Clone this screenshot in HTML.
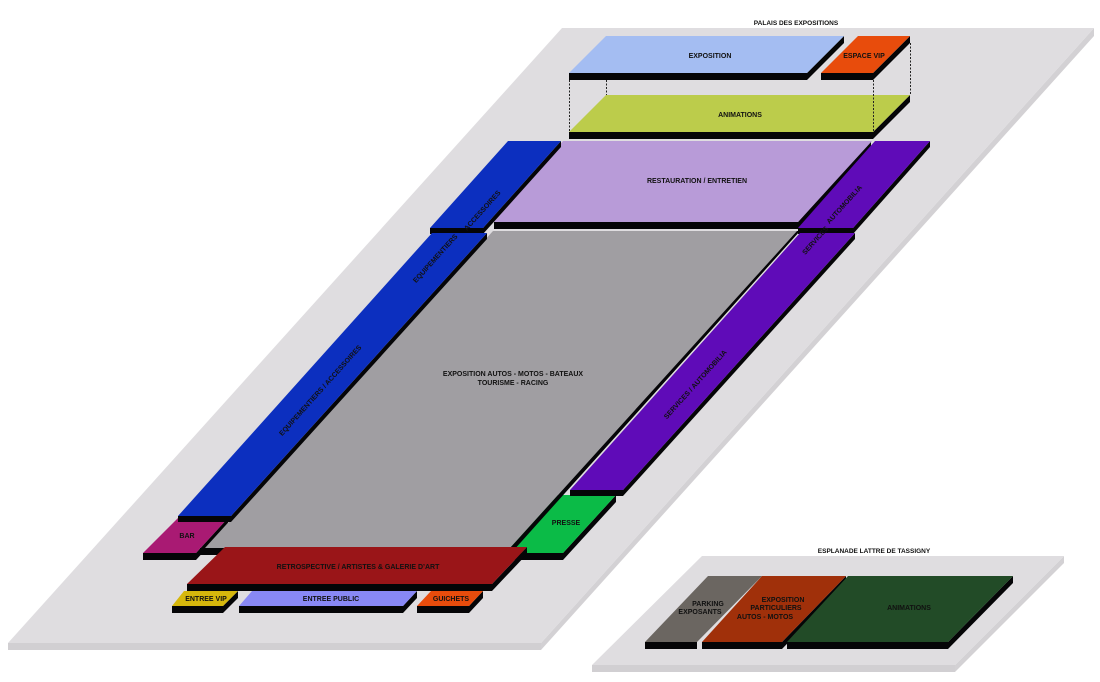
<!DOCTYPE html>
<html><head><meta charset="utf-8"><style>
html,body{margin:0;padding:0;background:#fff;}
svg{display:block;}
text{font-family:"Liberation Sans",sans-serif;font-weight:bold;font-size:7px;fill:#111;text-anchor:middle;}
.k{fill:#050507;}
</style></head><body>
<svg width="1100" height="682" viewBox="0 0 1100 682" xmlns="http://www.w3.org/2000/svg">
<!-- platforms -->
<polygon points="8,643 541,643 541,650 8,650" fill="#d1cfd2"/>
<polygon points="541,643 1094,28 1094,36 541,650" fill="#d3d1d4"/>
<polygon points="8,643 541,643 1094,28 562,28" fill="#dfdde0"/>
<polygon points="592,665 955,665 955,672 592,672" fill="#d1cfd2"/>
<polygon points="955,665 1064,556 1064,563 955,672" fill="#d3d1d4"/>
<polygon points="592,665 955,665 1064,556 702,556" fill="#dfdde0"/>
<text x="796" y="25" style="font-size:6.5px">PALAIS DES EXPOSITIONS</text>
<text x="874" y="553" style="font-size:6.5px">ESPLANADE LATTRE DE TASSIGNY</text>

<!-- ANIMATIONS top -->
<rect class="k" x="569" y="132" width="304" height="7"/>
<polygon class="k" points="873,132 910,95 910,102 873,139"/>
<polygon points="569,132 873,132 910,95 606,95" fill="#bccc4b"/>
<text x="740" y="117">ANIMATIONS</text>
<!-- dashed -->
<g stroke="#222" stroke-width="1" stroke-dasharray="2,1.5">
<line x1="569.5" y1="80" x2="569.5" y2="132"/>
<line x1="606.5" y1="80" x2="606.5" y2="95"/>
<line x1="873.5" y1="80" x2="873.5" y2="132"/>
<line x1="910.5" y1="43" x2="910.5" y2="95"/>
</g>
<!-- EXPOSITION -->
<rect class="k" x="569" y="73" width="238" height="7"/>
<polygon class="k" points="807,73 844,36 844,43 807,80"/>
<polygon points="569,73 807,73 844,36 606,36" fill="#a4bdf2"/>
<text x="710" y="58">EXPOSITION</text>
<!-- ESPACE VIP -->
<rect class="k" x="821" y="73" width="52" height="7"/>
<polygon class="k" points="873,73 910,36 910,43 873,80"/>
<polygon points="821,73 873,73 910,36 858,36" fill="#e84c0c"/>
<text x="864" y="58">ESPACE VIP</text>

<!-- RESTAURATION -->
<rect class="k" x="494" y="222" width="304" height="7"/>
<polygon class="k" points="798,222 871,141 871,148 798,229"/>
<polygon points="494,222 798,222 872,141 563,141" fill="#b89bd8"/>
<text x="697" y="183">RESTAURATION / ENTRETIEN</text>

<!-- blue short -->
<rect class="k" x="430" y="228" width="53" height="6"/>
<polygon class="k" points="483,228 561,141 561,147 483,234"/>
<polygon points="430,228 483,228 561,141 508,141" fill="#0c2fbf"/>
<!-- purple short -->
<rect class="k" x="798" y="228" width="55" height="6"/>
<polygon class="k" points="853,228 930,141 930,147 853,234"/>
<polygon points="798,228 853,228 930,141 875,141" fill="#5f0bb8"/>

<!-- BAR -->
<rect class="k" x="143" y="553" width="53" height="7"/>
<polygon class="k" points="196,553 228,518 228,525 196,560"/>
<polygon points="143,553 196,553 228,518 178,518" fill="#a91a73"/>
<text x="187" y="538">BAR</text>

<!-- PRESSE -->
<rect class="k" x="477" y="553" width="86" height="7"/>
<polygon class="k" points="563,553 616,495 616,502 563,560"/>
<polygon points="477,553 563,553 616,495 530,495" fill="#0bbb47"/>
<text x="566" y="525">PRESSE</text>

<!-- gray main -->
<rect class="k" x="200" y="548" width="310" height="7"/>
<polygon points="205,548 510,548 797,231 493,231" fill="#a09ea2"/>
<polygon class="k" points="510,548 797,231 800,231 513,551"/>
<text x="513" y="376">EXPOSITION AUTOS - MOTOS - BATEAUX</text>
<text x="513" y="385">TOURISME - RACING</text>

<!-- blue long -->
<rect class="k" x="178" y="516" width="53" height="6"/>
<polygon class="k" points="231,516 487,233 487,239 231,522"/>
<polygon points="178,516 231,516 487,233 432,233" fill="#0c2fbf"/>
<!-- purple long -->
<rect class="k" x="570" y="490" width="53" height="6"/>
<polygon class="k" points="623,490 855,233 855,239 623,496"/>
<polygon points="570,490 623,490 855,233 800,233" fill="#5f0bb8"/>

<!-- rotated labels -->
<text transform="translate(322,392) rotate(-48)">EQUIPEMENTIERS / ACCESSOIRES</text>
<text transform="translate(437,260) rotate(-48)">EQUIPEMENTIERS</text>
<text transform="translate(484,212) rotate(-48)">ACCESSOIRES</text>
<text transform="translate(697,386) rotate(-48)">SERVICES / AUTOMOBILIA</text>
<text transform="translate(817,242) rotate(-48)">SERVICES</text>
<text transform="translate(846,206) rotate(-48)">AUTOMOBILIA</text>

<!-- RETRO -->
<rect class="k" x="187" y="584" width="305" height="7"/>
<polygon class="k" points="492,584 527,547 527,554 492,591"/>
<polygon points="187,584 492,584 527,547 225,547" fill="#9a1518"/>
<text x="358" y="569">RETROSPECTIVE / ARTISTES &amp; GALERIE D’ART</text>

<!-- ENTREE VIP -->
<rect class="k" x="172" y="606" width="51" height="7"/>
<polygon class="k" points="223,606 238,591 238,598 223,613"/>
<polygon points="172,606 223,606 238,591 184,591" fill="#d6b70c"/>
<text x="206" y="601">ENTREE VIP</text>
<!-- ENTREE PUBLIC -->
<rect class="k" x="239" y="606" width="164" height="7"/>
<polygon class="k" points="403,606 417,591 417,598 403,613"/>
<polygon points="239,606 403,606 417,591 252,591" fill="#8888f5"/>
<text x="331" y="601">ENTREE PUBLIC</text>
<!-- GUICHETS -->
<rect class="k" x="417" y="606" width="52" height="7"/>
<polygon class="k" points="469,606 483,591 483,598 469,613"/>
<polygon points="417,606 469,606 483,591 431,591" fill="#e84c0c"/>
<text x="451" y="601">GUICHETS</text>

<!-- esplanade -->
<rect class="k" x="645" y="642" width="52" height="7"/>
<polygon points="645,642 697,642 762,576 708,576" fill="#6b6661"/>
<rect class="k" x="702" y="642" width="80" height="7"/>
<polygon class="k" points="782,642 846,576 846,583 782,649"/>
<polygon points="702,642 782,642 846,576 762,576" fill="#a0300a"/>
<rect class="k" x="787" y="642" width="161" height="7"/>
<polygon class="k" points="948,642 1013,576 1013,583 948,649"/>
<polygon points="787,642 948,642 1013,576 848,576" fill="#224b27"/>
<text x="708" y="606">PARKING</text>
<text x="700" y="614">EXPOSANTS</text>
<text x="783" y="602">EXPOSITION</text>
<text x="776" y="610">PARTICULIERS</text>
<text x="765" y="619">AUTOS - MOTOS</text>
<text x="909" y="610">ANIMATIONS</text>
</svg>
</body></html>
